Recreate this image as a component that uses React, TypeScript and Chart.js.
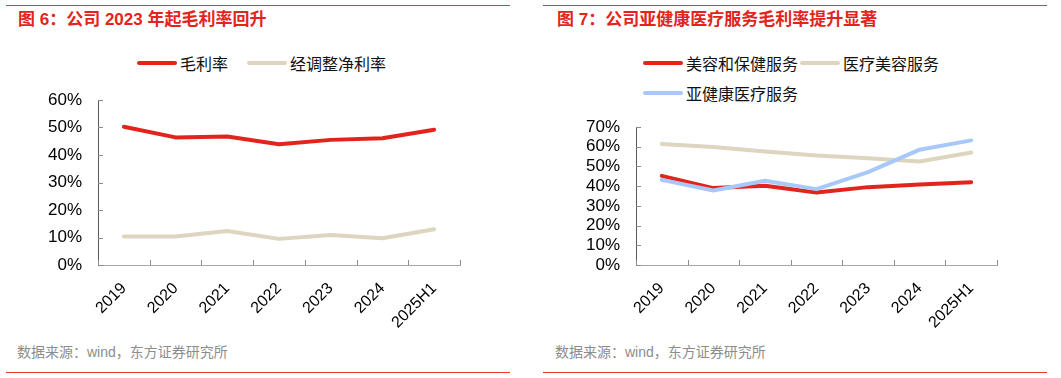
import React, { useEffect, useRef } from "react";
import { Chart, registerables } from "chart.js";

Chart.register(...registerables);

const years = ["2019", "2020", "2021", "2022", "2023", "2024", "2025H1"];

// Left chart (图 6)
const grossMargin = [50.3, 46.4, 46.7, 43.9, 45.5, 46.1, 49.2];
const adjNetMargin = [10.4, 10.4, 12.4, 9.5, 10.9, 9.7, 13.0];
const leftTicks = [0, 10, 20, 30, 40, 50, 60];

// Right chart (图 7)
const beautyCare = [45.2, 39.0, 40.2, 36.8, 39.5, 40.8, 42.0];
const medAesthetic = [61.4, 59.8, 57.6, 55.6, 54.2, 52.5, 57.1];
const subHealth = [43.2, 37.8, 42.7, 38.5, 47.1, 58.5, 63.2];
const rightTicks = [0, 10, 20, 30, 40, 50, 60, 70];

const RED = "#e3241c";
const BEIGE = "#ddd5bf";
const BLUE = "#a8c8f8";
const FONT = '"Liberation Sans", Arial, "Noto Sans CJK SC", sans-serif';

const innerTicks = {
  id: "innerTicks",
  afterDraw(chart: any) {
    const ctx = chart.ctx;
    const x = chart.scales.x;
    const y = chart.scales.y;
    ctx.save();
    ctx.lineWidth = 1;
    ctx.strokeStyle = "#8c8c8c";
    const n = x.ticks.length;
    for (let i = 0; i <= n; i++) {
      const px = Math.round(x.getPixelForValue(i - 0.5)) + 0.5;
      ctx.beginPath();
      ctx.moveTo(px, x.top);
      ctx.lineTo(px, x.top - 5);
      ctx.stroke();
    }
    y.ticks.forEach((t: any) => {
      const py = Math.round(y.getPixelForValue(t.value)) + 0.5;
      ctx.beginPath();
      ctx.moveTo(y.right, py);
      ctx.lineTo(y.right + 5, py);
      ctx.stroke();
    });
    ctx.restore();
  },
};

function makeConfig(
  datasets: any[],
  ticks: number[],
  yWidth: number,
  padTop: number,
  padRight: number,
  xHeight: number
): any {
  return {
    type: "line",
    data: { labels: years, datasets },
    options: {
      animation: false,
      responsive: false,
      maintainAspectRatio: false,
      layout: { padding: { top: padTop, right: padRight, left: 0, bottom: 0 } },
      plugins: { legend: { display: false }, tooltip: { enabled: false } },
      elements: { point: { radius: 0 }, line: { tension: 0, borderWidth: 4, borderCapStyle: "round", borderJoinStyle: "round" } },
      scales: {
        x: {
          offset: true,
          grid: { drawOnChartArea: false, drawTicks: true, tickLength: 14, tickColor: "rgba(0,0,0,0)" },
          border: { display: true, color: "#a6a6a6", width: 1 },
          ticks: {
            color: "#000",
            font: { family: FONT, size: 16 },
            minRotation: 45,
            maxRotation: 45,
            padding: 0,
            autoSkip: false,
          },
          afterFit(scale: any) {
            scale.height = xHeight;
          },
        },
        y: {
          min: ticks[0],
          max: ticks[ticks.length - 1],
          afterBuildTicks(scale: any) {
            scale.ticks = ticks.map((v) => ({ value: v }));
          },
          grid: { drawOnChartArea: false, drawTicks: true, tickLength: 16, tickColor: "rgba(0,0,0,0)" },
          border: { display: true, color: "#595959", width: 1 },
          ticks: {
            color: "#000",
            font: { family: FONT, size: 17 },
            padding: 0,
            autoSkip: false,
            callback: (v: any) => `${v}%`,
          },
          afterFit(scale: any) {
            scale.width = yWidth;
          },
        },
      },
    },
    plugins: [innerTicks],
  };
}

function ChartCanvas(props: { config: any; left: number; top: number; width: number; height: number }) {
  const ref = useRef<HTMLCanvasElement>(null);
  useEffect(() => {
    if (!ref.current) return;
    const chart = new Chart(ref.current, props.config);
    return () => chart.destroy();
  }, []);
  return (
    <canvas
      ref={ref}
      width={props.width}
      height={props.height}
      style={{ position: "absolute", left: props.left, top: props.top, width: props.width, height: props.height }}
    />
  );
}

function LegendItem(props: { color: string; label: string; left: number; cy: number }) {
  return (
    <div
      style={{
        position: "absolute",
        left: props.left,
        top: props.cy - 11,
        height: 22,
        display: "flex",
        alignItems: "center",
        whiteSpace: "nowrap",
        fontFamily: FONT,
        fontSize: 16,
        color: "#111",
      }}
    >
      <div style={{ width: 40, height: 4, borderRadius: 2, background: props.color, marginRight: 3 }} />
      <span>{props.label}</span>
    </div>
  );
}

function Rule(props: { left: number; top: number; width: number }) {
  return <div style={{ position: "absolute", left: props.left, top: props.top, width: props.width, height: 1, background: "#e8392f" }} />;
}

function Title(props: { left: number; text: string }) {
  return (
    <div
      style={{
        position: "absolute",
        left: props.left,
        top: 9,
        lineHeight: "22px",
        fontFamily: FONT,
        fontWeight: 700,
        fontSize: 17,
        color: "#e3241c",
        whiteSpace: "nowrap",
      }}
    >
      {props.text}
    </div>
  );
}

function Source(props: { left: number }) {
  return (
    <div
      style={{
        position: "absolute",
        left: props.left,
        top: 342,
        lineHeight: "20px",
        fontFamily: FONT,
        fontSize: 14,
        color: "#8c8c8c",
        whiteSpace: "nowrap",
      }}
    >
      数据来源：wind，东方证券研究所
    </div>
  );
}

export default function App() {
  const leftConfig = makeConfig(
    [
      { label: "毛利率", data: grossMargin, borderColor: RED, backgroundColor: RED, order: 0 },
      { label: "经调整净利率", data: adjNetMargin, borderColor: BEIGE, backgroundColor: BEIGE, order: 1 },
    ],
    leftTicks,
    92,
    12,
    50,
    75
  );
  const rightConfig = makeConfig(
    [
      { label: "美容和保健服务", data: beautyCare, borderColor: RED, backgroundColor: RED, order: 1 },
      { label: "医疗美容服务", data: medAesthetic, borderColor: BEIGE, backgroundColor: BEIGE, order: 2 },
      { label: "亚健康医疗服务", data: subHealth, borderColor: BLUE, backgroundColor: BLUE, order: 0 },
    ],
    rightTicks,
    93,
    12,
    50,
    75
  );
  return (
    <div style={{ position: "absolute", left: 0, top: 0, width: 1061, height: 378, background: "#fff", overflow: "hidden" }}>
      <Rule left={6} top={5} width={504} />
      <Rule left={543} top={5} width={504} />
      <Title left={18} text="图 6：公司 2023 年起毛利率回升" />
      <Title left={557} text="图 7：公司亚健康医疗服务毛利率提升显著" />

      <LegendItem color={RED} label="毛利率" left={137} cy={63} />
      <LegendItem color={BEIGE} label="经调整净利率" left={247} cy={63} />

      <LegendItem color={RED} label="美容和保健服务" left={643} cy={63} />
      <LegendItem color={BEIGE} label="医疗美容服务" left={800} cy={63} />
      <LegendItem color={BLUE} label="亚健康医疗服务" left={643} cy={93} />

      <ChartCanvas config={leftConfig} left={6} top={88} width={504} height={252} />
      <ChartCanvas config={rightConfig} left={543} top={115} width={504} height={225} />

      <Source left={17} />
      <Source left={555} />
      <Rule left={6} top={372} width={504} />
      <Rule left={543} top={372} width={504} />
    </div>
  );
}
